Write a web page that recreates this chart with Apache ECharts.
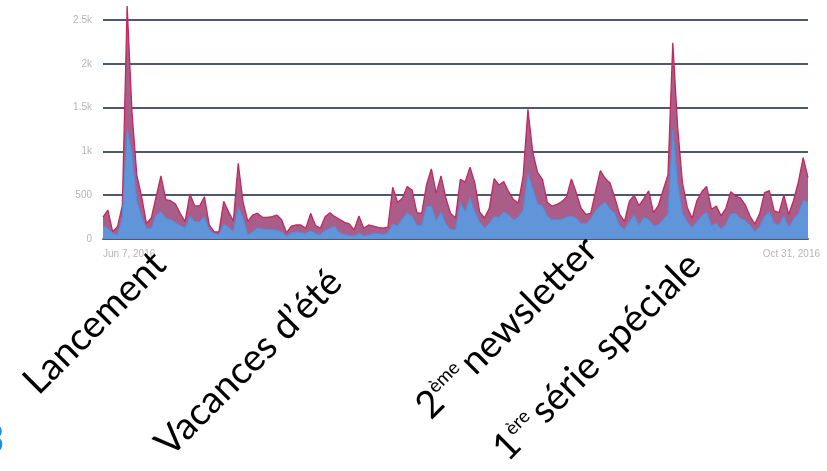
<!DOCTYPE html>
<html>
<head>
<meta charset="utf-8">
<script src="https://cdn.jsdelivr.net/npm/echarts@6/dist/echarts.min.js"></script>
<style>
html,body{margin:0;padding:0;background:#fff;}
#chart{width:827px;height:471px;}
</style>
</head>
<body>
<div id="chart"></div>
<script>
// Period: Jun 7, 2016 -> Oct 31, 2016 (daily)
const monthNames = ['Jun', 'Jul', 'Aug', 'Sep', 'Oct'];
const monthStart = [7, 1, 1, 1, 1];
const monthEnd = [30, 31, 31, 30, 31];

// Total visits (top of the purple area)
const totalVisits = [
  251, 331, 83, 141, 380, 2660, 1450, 730, 483, 179,
  240, 483, 720, 450, 437, 400, 290, 198, 514, 377,
  377, 483, 160, 83, 80, 430, 310, 205, 864, 420,
  200, 274, 295, 248, 248, 255, 274, 220, 72, 148,
  160, 160, 122, 293, 155, 122, 255, 300, 255, 225,
  190, 172, 103, 263, 122, 160, 148, 133, 125, 135,
  590, 420, 465, 600, 560, 300, 293, 620, 800, 520,
  720, 470, 290, 240, 680, 650, 820, 640, 310, 240,
  350, 690, 617, 655, 540, 450, 410, 711, 1480, 990,
  760, 682, 420, 375, 395, 425, 480, 685, 530, 351,
  280, 293, 540, 780, 690, 640, 470, 280, 200, 430,
  500, 380, 460, 550, 300, 380, 560, 730, 2240, 1280,
  640, 360, 236, 440, 540, 600, 340, 377, 265, 351,
  540, 490, 470, 390, 260, 170, 293, 529, 552, 320,
  300, 500, 280, 440, 650, 930, 700
];

// Blue part (lower area)
const blueVisits = [
  148, 122, 65, 46, 250, 1250, 980, 430, 255, 122,
  122, 274, 312, 236, 225, 190, 155, 122, 263, 198,
  198, 255, 103, 65, 46, 171, 133, 83, 369, 236,
  46, 83, 129, 115, 110, 105, 100, 83, 34, 72,
  80, 75, 65, 95, 62, 46, 103, 122, 145, 70,
  50, 40, 34, 65, 35, 45, 65, 65, 55, 70,
  170, 150, 230, 300, 260, 160, 155, 370, 377, 210,
  312, 170, 110, 110, 420, 310, 470, 315, 195, 125,
  180, 255, 248, 310, 274, 220, 250, 331, 742, 580,
  400, 380, 260, 220, 222, 225, 250, 263, 240, 175,
  175, 230, 320, 380, 420, 345, 290, 150, 110, 200,
  274, 160, 245, 225, 150, 160, 225, 280, 1244, 650,
  290, 200, 130, 200, 265, 305, 155, 179, 115, 165,
  290, 293, 235, 212, 160, 85, 141, 260, 310, 180,
  160, 265, 135, 225, 290, 440, 420
];

const yTickLabels = ['0', '500', '1k', '1.5k', '2k', '2.5k'];

const annotations = [
  { text: '{a|Lancement}', x: 94, y: 322 },
  { text: '{a|Vacances d\u2019été}', x: 248, y: 362 },
  { text: '{a|2}{s|ème }{a|newsletter}', x: 506, y: 327 },
  { text: '{a|1}{s|ère }{a|série spéciale}', x: 596, y: 356 }
];

const dates = [];
for (let m = 0; m < monthNames.length; m++) {
  for (let d = monthStart[m]; d <= monthEnd[m]; d++) {
    dates.push(monthNames[m] + ' ' + d + ', 2016');
  }
}

const chart = echarts.init(document.getElementById('chart'), null, { renderer: 'canvas' });
const gridColor = '#4f5872';
const annFont = 'Lato';

const option = {
  animation: false,
  backgroundColor: '#ffffff',
  grid: { left: 103, right: 19, top: 20, bottom: 232 },
  xAxis: {
    type: 'category',
    boundaryGap: false,
    data: dates,
    axisLine: { show: true, lineStyle: { color: gridColor, width: 2 } },
    axisTick: { show: false },
    splitLine: { show: false },
    axisLabel: {
      interval: function (idx) { return idx === 0 || idx === dates.length - 1; },
      color: '#b5b5b5',
      fontSize: 10,
      fontFamily: 'Arial',
      margin: 10,
      alignMinLabel: 'left',
      alignMaxLabel: 'right',
      formatter: function (v, idx) {
        return idx === dates.length - 1 ? '{r|' + v + '}' : v;
      },
      rich: { r: { color: '#b5b5b5', fontSize: 10, fontFamily: 'Arial', padding: [0, -12, 0, 0] } }
    }
  },
  yAxis: {
    type: 'value',
    min: 0,
    max: 2500,
    interval: 500,
    axisLine: { show: false },
    axisTick: { show: false },
    axisLabel: {
      color: '#b5b5b5',
      fontSize: 10,
      fontFamily: 'Arial',
      margin: 11,
      formatter: function (v) { return yTickLabels[Math.round(v / 500)]; }
    },
    splitLine: { show: true, lineStyle: { color: gridColor, width: 2 } }
  },
  series: [
    {
      name: 'Total',
      type: 'line',
      data: totalVisits,
      symbol: 'none',
      clip: false,
      z: 2,
      lineStyle: { color: '#c4285b', width: 1.3 },
      areaStyle: { color: '#a95d88', opacity: 1 }
    },
    {
      name: 'Blue',
      type: 'line',
      data: blueVisits,
      symbol: 'none',
      clip: false,
      z: 3,
      lineStyle: { color: '#4b8fe2', width: 1 },
      areaStyle: { color: '#6195d9', opacity: 1 }
    }
  ],
  graphic: annotations.map(function (a) {
    return {
      type: 'text',
      x: a.x,
      y: a.y,
      rotation: Math.PI / 4,
      z: 100,
      style: {
        text: a.text,
        align: 'center',
        verticalAlign: 'middle',
        rich: {
          a: { fontSize: 38, fontFamily: annFont, fill: '#000', lineHeight: 40, verticalAlign: 'bottom' },
          s: { fontSize: 19, fontFamily: annFont, fill: '#000', lineHeight: 40, verticalAlign: 'top', padding: [2, 0, 0, 0] }
        }
      }
    };
  }).concat([
    {
      type: 'text',
      x: -19,
      y: 420,
      z: 100,
      style: { text: '3', fontSize: 40, fontFamily: 'Lato', fontWeight: 'bold', fill: '#1e90e0' }
    }
  ])
};

chart.setOption(option);
</script>
</body>
</html>
